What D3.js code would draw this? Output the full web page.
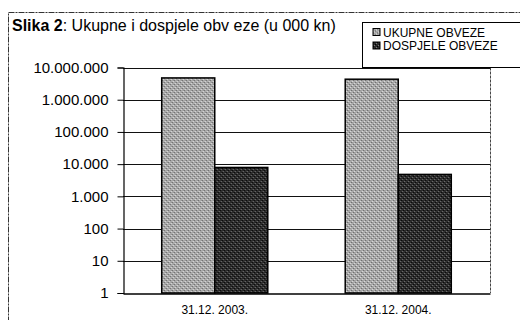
<!DOCTYPE html>
<html>
<head>
<meta charset="utf-8">
<script src="https://cdn.jsdelivr.net/npm/d3@7"></script>
<style>
  html, body { margin: 0; padding: 0; background: #fff; }
  svg { display: block; font-family: "Liberation Sans", Arial, sans-serif; }
</style>
</head>
<body>
<svg id="chart" width="520" height="320"></svg>
<script>
// Data
const categories = ["31.12. 2003.", "31.12. 2004."];
const seriesNames = ["UKUPNE OBVEZE", "DOSPJELE OBVEZE"];
const ukupneObveze = [4750000, 4330000];
const dospjeleObveze = [7900, 4800];
const yTickValues = [1, 10, 100, 1000, 10000, 100000, 1000000, 10000000];

const seriesValues = [ukupneObveze, dospjeleObveze];
const rows = categories.map((c, i) => ({
  category: c,
  values: seriesNames.map((s, j) => ({ series: s, value: seriesValues[j][i] }))
}));

const svg = d3.select("#chart");
const plot = { left: 123, right: 490, top: 67.5, bottom: 293 };

// Stippled fills for the two series
const defs = svg.append("defs");
function stipple(id, base, dot, dot2) {
  const p = defs.append("pattern").attr("id", id)
    .attr("patternUnits", "userSpaceOnUse").attr("width", 4).attr("height", 4);
  p.append("rect").attr("width", 4).attr("height", 4).attr("fill", base);
  p.append("rect").attr("x", 0).attr("y", 0).attr("width", 1).attr("height", 1).attr("fill", dot);
  p.append("rect").attr("x", 2).attr("y", 2).attr("width", 1).attr("height", 1).attr("fill", dot);
  p.append("rect").attr("x", 1).attr("y", 3).attr("width", 1).attr("height", 1).attr("fill", dot2);
  p.append("rect").attr("x", 3).attr("y", 1).attr("width", 1).attr("height", 1).attr("fill", dot2);
}
stipple("fillUkupne", "#a8a8a8", "#606060", "#e4e4e4");
stipple("fillDospjele", "#2c2c2c", "#000000", "#7a7a7a");
const fills = { "UKUPNE OBVEZE": "url(#fillUkupne)", "DOSPJELE OBVEZE": "url(#fillDospjele)" };

// Outer chart frame
svg.append("rect").attr("x", 8.5).attr("y", 12.5).attr("width", 530).attr("height", 330)
  .attr("fill", "none").attr("stroke", "#333").attr("stroke-width", 1).attr("stroke-dasharray", "6,1,2,1");

// Scales
const y = d3.scaleLog().domain([1, 1e7]).range([plot.bottom, plot.top]);
const x0 = d3.scaleBand().domain(categories).range([plot.left, plot.right])
  .paddingInner(0.422).paddingOuter(0.211);
const x1 = d3.scaleBand().domain(seriesNames).range([0, x0.bandwidth()]);

const locale = d3.formatLocale({ decimal: ",", thousands: ".", grouping: [3], currency: ["", ""] });
const fmt = locale.format(",d");

// Gridlines
svg.append("g").selectAll("line").data(yTickValues.slice(1)).join("line")
  .attr("x1", plot.left).attr("x2", plot.right)
  .attr("y1", d => Math.round(y(d)) + 0.5).attr("y2", d => Math.round(y(d)) + 0.5)
  .attr("stroke", "#111").attr("stroke-width", 1);

// Right border of plot area
svg.append("line").attr("x1", plot.right + 0.5).attr("x2", plot.right + 0.5)
  .attr("y1", plot.top).attr("y2", plot.bottom)
  .attr("stroke", "#444").attr("stroke-dasharray", "3,1");

// Bars
const groups = svg.append("g").selectAll("g").data(rows).join("g")
  .attr("transform", d => `translate(${x0(d.category)},0)`);
groups.selectAll("rect").data(d => d.values).join("rect")
  .attr("x", d => x1(d.series))
  .attr("y", d => y(d.value))
  .attr("width", x1.bandwidth())
  .attr("height", d => y(1) - y(d.value))
  .attr("fill", d => fills[d.series])
  .attr("stroke", "#000").attr("stroke-width", 1.5);

// Y axis
const yAxis = d3.axisLeft(y).tickValues(yTickValues).tickFormat(fmt).tickSize(6).tickPadding(9);
const gy = svg.append("g").attr("transform", `translate(${plot.left + 0.5},0)`).call(yAxis);
gy.select(".domain").attr("stroke", "#000").attr("stroke-width", 1.2);
gy.selectAll(".tick line").attr("stroke", "#000");
gy.selectAll(".tick text").attr("font-size", 15).attr("fill", "#000")
  .attr("font-family", "'Liberation Sans', Arial, sans-serif");

// X axis
const xAxis = d3.axisBottom(x0).tickSize(0).tickPadding(12);
const gx = svg.append("g").attr("transform", `translate(0,${plot.bottom + 0.5})`).call(xAxis);
gx.select(".domain").attr("stroke", "#000").attr("stroke-width", 1.5);
gx.selectAll(".tick text").attr("font-size", 12).attr("fill", "#000")
  .attr("font-family", "'Liberation Sans', Arial, sans-serif");

// Title
const title = svg.append("text").attr("x", 12).attr("y", 31).attr("font-size", 16).attr("fill", "#000");
title.append("tspan").attr("font-weight", "bold").text("Slika 2");
title.append("tspan").text(": Ukupne i dospjele obv eze (u 000 kn)");

// Legend
const lg = svg.append("g");
lg.append("rect").attr("x", 362.5).attr("y", 22.5).attr("width", 170).attr("height", 45)
  .attr("fill", "#fff").attr("stroke", "#000").attr("stroke-width", 1);
const items = lg.selectAll("g.item").data(seriesNames).join("g").attr("class", "item")
  .attr("transform", (d, i) => `translate(373,${36.5 + i * 13.5})`);
items.append("rect").attr("x", 0).attr("y", -8).attr("width", 7).attr("height", 7)
  .attr("fill", d => fills[d]).attr("stroke", "#000").attr("stroke-width", 1);
items.append("text").attr("x", 10).attr("y", 0).attr("font-size", 12).attr("fill", "#000").text(d => d);
</script>
</body>
</html>
